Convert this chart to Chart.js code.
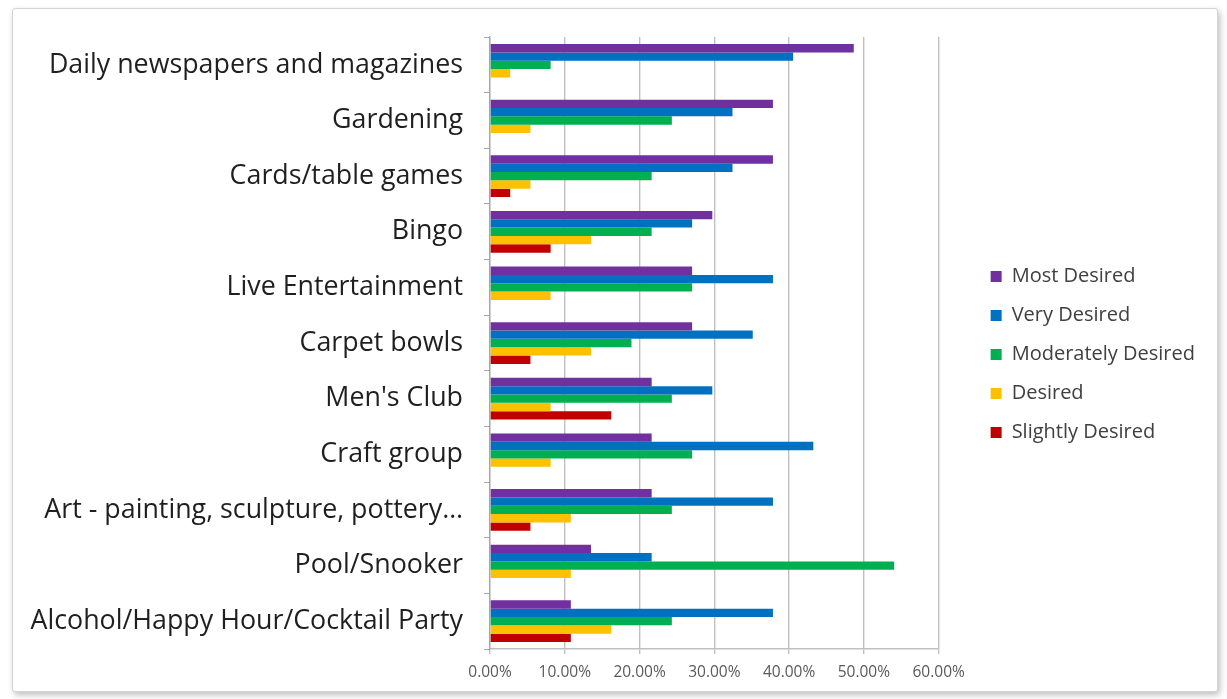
<!DOCTYPE html>
<html>
<head>
<meta charset="utf-8">
<script src="https://cdn.jsdelivr.net/npm/chart.js@4/dist/chart.umd.min.js"></script>
<style>
  html, body { margin: 0; padding: 0; background: #fff; }
  #frame {
    position: absolute; left: 12px; top: 8px; width: 1204px; height: 682px;
    border: 1px solid #d4d4d4; border-radius: 3px; background: #fff;
    box-shadow: 2px 3px 6px rgba(0,0,0,0.25);
  }
  #wrap { position: absolute; left: 0; top: 0; width: 1227px; height: 699px; }
</style>
</head>
<body>
<div id="frame"></div>
<div id="wrap"><canvas id="chart" width="1227" height="699"></canvas></div>
<script>
const categories = [
  'Daily newspapers and magazines',
  'Gardening',
  'Cards/table games',
  'Bingo',
  'Live Entertainment',
  'Carpet bowls',
  "Men's Club",
  'Craft group',
  'Art - painting, sculpture, pottery…',
  'Pool/Snooker',
  'Alcohol/Happy Hour/Cocktail Party'
];

// percentages per category, top to bottom
const mostDesired       = [48.65, 37.84, 37.84, 29.73, 27.03, 27.03, 21.62, 21.62, 21.62, 13.51, 10.81];
const veryDesired       = [40.54, 32.43, 32.43, 27.03, 37.84, 35.14, 29.73, 43.24, 37.84, 21.62, 37.84];
const moderatelyDesired = [ 8.11, 24.32, 21.62, 21.62, 27.03, 18.92, 24.32, 27.03, 24.32, 54.05, 24.32];
const desired           = [ 2.70,  5.41,  5.41, 13.51,  8.11, 13.51,  8.11,  8.11, 10.81, 10.81, 16.22];
const slightlyDesired   = [ 0,     0,     2.70,  8.11,  0,     5.41, 16.22,  0,     5.41,  0,    10.81];

const seriesNames = ['Most Desired', 'Very Desired', 'Moderately Desired', 'Desired', 'Slightly Desired'];
const seriesColors = ['#7030a0', '#0070c0', '#00b050', '#ffc000', '#c00000'];
const seriesData = [mostDesired, veryDesired, moderatelyDesired, desired, slightlyDesired];

const FONT = "'Open Sans', 'Noto Sans', sans-serif";

// empty scales used only to reserve space around the plot
const spacer = (axis, position, size) => ({
  axis, position, display: true,
  ticks: { display: false },
  grid: { display: false },
  border: { display: false },
  afterFit: s => { if (axis === 'x') s.height = size; else s.width = size; }
});

// the layout caps side boxes at a fraction of the width; let the legend be as wide as its text
const legendWidthFix = {
  id: 'legendWidthFix',
  beforeLayout(chart) {
    const lg = chart.legend;
    if (!lg || lg._fixed) return;
    const up = lg.update;
    lg.update = function (mw, mh, m) { up.call(this, 320, mh, m); };
    lg._fixed = true;
  }
};

new Chart(document.getElementById('chart'), {
  type: 'bar',
  data: {
    labels: categories,
    datasets: seriesNames.map((name, i) => ({
      label: name,
      data: seriesData[i],
      backgroundColor: seriesColors[i],
      borderWidth: 0,
      categoryPercentage: 0.75,
      barPercentage: 1.0
    }))
  },
  options: {
    indexAxis: 'y',
    responsive: false,
    animation: false,
    layout: { padding: { top: 10, right: 22, bottom: 0, left: 0 } },
    scales: {
      x: {
        min: 0, max: 60,
        ticks: {
          stepSize: 10,
          padding: 9,
          color: '#595959',
          font: { family: FONT, size: 15.5 },
          callback: v => v.toFixed(2) + '%'
        },
        grid: { color: '#c0c0c0', lineWidth: 1.4, drawTicks: true, tickLength: 5 },
        border: { color: '#c0c0c0', width: 1.4 },
        afterFit: s => { s.height = 50; }
      },
      y: {
        ticks: {
          padding: 21,
          color: '#1f1f1f',
          font: { family: FONT, size: 26.8 }
        },
        grid: { drawOnChartArea: false, drawTicks: true, tickLength: 6, color: '#a6a6a6', offset: true },
        border: { color: '#a6a6a6', width: 1.3 },
        afterFit: s => { s.width = 490; }
      },
      topPad: spacer('x', 'top', 26),
      rightPad: spacer('y', 'right', 33)
    },
    plugins: {
      legend: {
        position: 'right',
        labels: {
          boxWidth: 11,
          boxHeight: 11,
          padding: 19,
          color: '#404040',
          font: { family: FONT, size: 20 }
        }
      },
      tooltip: { enabled: false }
    }
  },
  plugins: [legendWidthFix]
});
</script>
</body>
</html>
